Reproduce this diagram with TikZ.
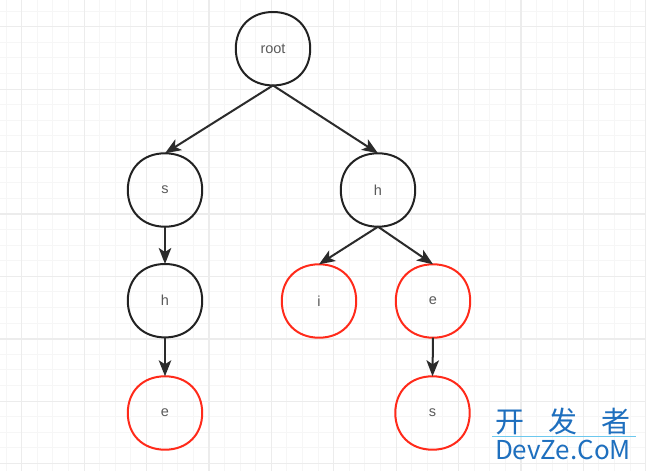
\documentclass[tikz,border=0pt]{standalone}
\usepackage{fontspec}
\setmainfont{Liberation Sans}
\newfontfamily\cjkfont{Noto Sans CJK SC}
\usetikzlibrary{arrows.meta,calc}
\definecolor{minorgrid}{HTML}{F6F6F6}
\definecolor{majorgrid}{HTML}{ECECEC}
\definecolor{nodeblack}{HTML}{222222}
\definecolor{nodered}{HTML}{FF2A1A}
\definecolor{txtgray}{HTML}{5A5A5A}
\definecolor{edgecol}{HTML}{2B2B2B}
\definecolor{wmblue}{HTML}{1E6FBE}
\definecolor{wmline}{HTML}{6CC8EE}
\tikzset{
  tnode/.style={rectangle, minimum width=74pt, minimum height=73pt, inner sep=0pt,
    text=txtgray, font=\fontsize{14.5}{16}\selectfont},
  blackline/.style={draw=nodeblack, line width=2pt},
  redline/.style={draw=nodered, line width=2pt},
  edge/.style={draw=edgecol, line width=2pt, -{Stealth[length=16pt,width=12.5pt,inset=4pt]}}
}
\newcommand\squircle[2]{%
  \draw[#2] (#1.north)
    .. controls ($(#1.north)+(22,0)$) and ($(#1.east)+(0,-22)$) .. (#1.east)
    .. controls ($(#1.east)+(0,22)$) and ($(#1.south)+(22,0)$) .. (#1.south)
    .. controls ($(#1.south)+(-22,0)$) and ($(#1.west)+(0,22)$) .. (#1.west)
    .. controls ($(#1.west)+(0,-22)$) and ($(#1.north)+(-22,0)$) .. (#1.north) -- cycle;}
\begin{document}
\begin{tikzpicture}[x=1pt,y=-1pt]
\useasboundingbox (0,0) rectangle (646,471);
\fill[white] (0,0) rectangle (646,471);
% minor grid
\foreach \i in {0,...,41} {
  \draw[minorgrid, line width=1pt] ({6.1+15.6*\i},0) -- ({6.1+15.6*\i},471);
}
\foreach \j in {0,...,30} {
  \draw[minorgrid, line width=1pt] (0,{11.1+15.6*\j}) -- (646,{11.1+15.6*\j});
}
% major grid
\foreach \i in {0,...,10} {
  \draw[majorgrid, line width=1.2pt] ({21.7+62.4*\i},0) -- ({21.7+62.4*\i},471);
}
\foreach \j in {0,...,7} {
  \draw[majorgrid, line width=1.2pt] (0,{26.7+62.45*\j}) -- (646,{26.7+62.45*\j});
}
% nodes
\node[tnode] (root) at (273,48.7) {root};
\node[tnode] (s1) at (165,190) {s};
\node[tnode] (h1) at (165,300.7) {h};
\node[tnode] (e1) at (165,413) {e};
\node[tnode] (h2) at (378,190) {h};
\node[tnode] (i2) at (319,301) {i};
\node[tnode] (e2) at (433,301) {e};
\node[tnode] (s2) at (432.5,413) {s};
\squircle{root}{blackline}
\squircle{s1}{blackline}
\squircle{h1}{blackline}
\squircle{h2}{blackline}
\squircle{e1}{redline}
\squircle{i2}{redline}
\squircle{e2}{redline}
\squircle{s2}{redline}
% edges
\draw[edge] (root.south) -- (s1.north);
\draw[edge] (root.south) -- (h2.north);
\draw[edge] (s1.south) -- (h1.north);
\draw[edge] (h1.south) -- (e1.north);
\draw[edge] (h2.south) -- (i2.north);
\draw[edge] (h2.south) -- (e2.north);
\draw[edge] (e2.south) -- (s2.north);
% watermark
\node[text=wmblue, font=\cjkfont\fontsize{29}{30}\selectfont, inner sep=0pt, anchor=center] (wmcn) at (563,421) {开\hspace{24pt}发\hspace{24pt}者};
\draw[wmline, line width=0.8pt] (492,436.5) -- (636,436.5);
\node[text=wmblue, font=\cjkfont\fontsize{26}{28}\selectfont, inner sep=0pt, anchor=center] (wmen) at (563,450) {DevZe.CoM};
\end{tikzpicture}
\end{document}
